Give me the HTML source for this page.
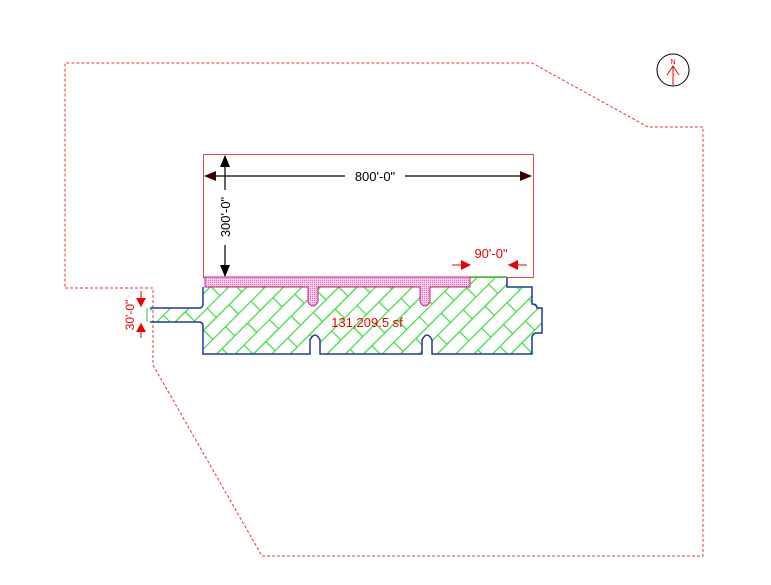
<!DOCTYPE html>
<html><head><style>
html,body{margin:0;padding:0;background:#fff;}
svg{display:block;font-family:"Liberation Sans",sans-serif;}
</style></head><body>
<svg width="771" height="585" viewBox="0 0 771 585" xmlns="http://www.w3.org/2000/svg">
<defs>
<pattern id="brick" width="36" height="26" patternUnits="userSpaceOnUse" patternTransform="rotate(-45)">
<g stroke="#33dd33" stroke-width="1.2" fill="none">
<line x1="0" y1="0.5" x2="36" y2="0.5"/>
<line x1="0" y1="13.5" x2="36" y2="13.5"/>
<line x1="0.5" y1="0" x2="0.5" y2="13"/>
<line x1="18.5" y1="13" x2="18.5" y2="26"/>
</g>
</pattern>
<pattern id="dots" width="2" height="2" patternUnits="userSpaceOnUse">
<rect width="2" height="2" fill="#f8cbe8"/>
<rect width="1" height="1" fill="#e070c0"/>
</pattern>
</defs>
<polyline points="65,288 153,288 153,365 262,556 703,556 703,127 648,127 532,63 65,63 65,288" fill="none" stroke="#e33" stroke-width="1" stroke-dasharray="3,2"/>
<rect x="203.5" y="154.5" width="330" height="123" fill="none" stroke="#e44" stroke-width="1"/>
<path d="M150,308 L199,308 Q203,308 203,304 L203,287 L205,287 L205,277 L507,277 L507,287 L532,287 L532,304 Q537,304 537,308 L542,308 L542,333 L537,333 Q532,333 532,338 L532,354 L432,354 L432,340 Q427,330 422,340 L422,354 L320,354 L320,340 Q315,330 310,340 L310,354 L203,354 L203,326 Q203,322 199,322 L150,322 Z" fill="url(#brick)" stroke="none"/>
<path d="M150,308 L199,308 Q203,308 203,304 L203,287 M507,277 L507,287 L532,287 L532,304 Q537,304 537,308 L542,308 L542,333 L537,333 Q532,333 532,338 L532,354 L432,354 L432,340 Q427,330 422,340 L422,354 L320,354 L320,340 Q315,330 310,340 L310,354 L203,354 L203,326 Q203,322 199,322 L150,322" fill="none" stroke="#1a3aa0" stroke-width="1.5"/>
<line x1="470" y1="277" x2="507" y2="277" stroke="#33cc33" stroke-width="1.5"/>
<line x1="147" y1="308" x2="147" y2="322" stroke="#33cc33" stroke-width="1"/>
<path d="M205,277 L470,277 L470,287 L430,287 L430,302 Q425,310 420,302 L420,287 L318,287 L318,302 Q313,310 308,302 L308,287 L205,287 Z" fill="url(#dots)" stroke="#c02080" stroke-width="1"/>
<line x1="205" y1="176" x2="345" y2="176" stroke="#000" stroke-width="1.2"/>
<line x1="405" y1="176" x2="531" y2="176" stroke="#000" stroke-width="1.2"/>
<polygon points="204,176 216,171 216,181" fill="#400"/>
<polygon points="532,176 520,171 520,181" fill="#400"/>
<text x="375" y="181" font-size="13" text-anchor="middle">800'-0"</text>
<line x1="225" y1="156" x2="225" y2="190" stroke="#000" stroke-width="1.2"/>
<line x1="225" y1="245" x2="225" y2="276" stroke="#000" stroke-width="1.2"/>
<polygon points="225,155 220,167 230,167" fill="#000"/>
<polygon points="225,277 220,265 230,265" fill="#000"/>
<text x="0" y="0" font-size="13" text-anchor="middle" transform="translate(230,217) rotate(-90)">300'-0"</text>
<text x="491" y="258" font-size="13" fill="#e00" text-anchor="middle">90'-0"</text>
<line x1="452" y1="265" x2="470" y2="265" stroke="#e00"/>
<polygon points="471,265 461,260 461,270" fill="#e00"/>
<line x1="508" y1="265" x2="527" y2="265" stroke="#e00"/>
<polygon points="508,265 518,260 518,270" fill="#e00"/>
<line x1="141" y1="291" x2="141" y2="307" stroke="#e00"/>
<polygon points="141,307 136,298 146,298" fill="#e00"/>
<line x1="141" y1="323" x2="141" y2="338" stroke="#e00"/>
<polygon points="141,323 136,332 146,332" fill="#e00"/>
<text x="0" y="0" font-size="12" fill="#e00" text-anchor="middle" transform="translate(134,315) rotate(-90)">30'-0"</text>
<text x="367" y="327" font-size="13" fill="#e00" text-anchor="middle">131,209.5 sf</text>
<circle cx="673" cy="70" r="16" fill="none" stroke="#000" stroke-width="1"/>
<text x="673" y="64" font-size="7" fill="#e00" text-anchor="middle">N</text>
<line x1="673" y1="66" x2="673" y2="85" stroke="#e00"/>
<polyline points="667,75 673,66 679,75" fill="none" stroke="#e00"/>
</svg>
</body></html>
